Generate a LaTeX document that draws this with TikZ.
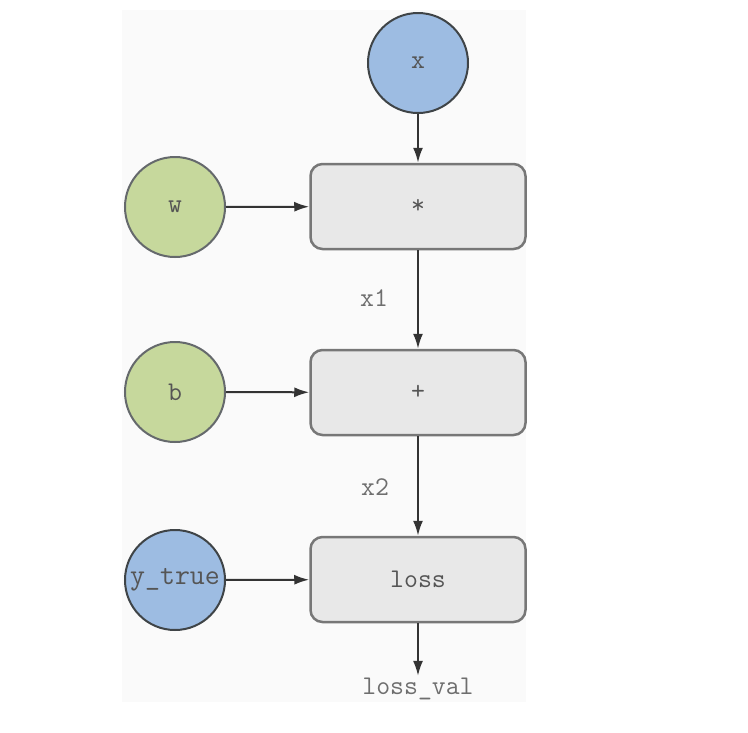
\documentclass[tikz,border=0pt]{standalone}
\usepackage{fontspec}
\usetikzlibrary{arrows.meta}
\definecolor{panel}{HTML}{FAFAFA}
\definecolor{bluefill}{HTML}{9DBCE2}
\definecolor{greenfill}{HTML}{C6D89C}
\definecolor{boxfill}{HTML}{E8E8E8}
\definecolor{boxline}{HTML}{777777}
\definecolor{circline}{HTML}{3F4447}
\definecolor{txt}{HTML}{555555}
\begin{document}
\begin{tikzpicture}[x=1pt,y=-1pt,
  every node/.style={font=\ttfamily\fontsize{27}{30}\selectfont, text=txt},
  bluecirc/.style={circle, draw=circline, line width=2pt, fill=bluefill, minimum size=100pt, inner sep=0pt},
  greencirc/.style={circle, draw=circline!80, line width=2pt, fill=greenfill, minimum size=100pt, inner sep=0pt},
  opbox/.style={rectangle, rounded corners=12pt, draw=boxline, line width=2.5pt, fill=boxfill, minimum width=215pt, minimum height=85pt},
  edge/.style={draw=black!80, line width=2pt, -{Latex[length=15pt,width=10pt]}},
  lbl/.style={text=txt!85}
]
\useasboundingbox (0,0) rectangle (748,732);
\fill[white] (0,0) rectangle (748,732);
\fill[panel] (122,10) rectangle (526,702);

\node[bluecirc] (x) at (418,63) {x};
\node[opbox] (mul) at (418,206.5) {*};
\node[greencirc] (w) at (175,207) {w};
\node[opbox] (add) at (418,392.5) {+};
\node[greencirc] (b) at (175,392) {b};
\node[opbox] (loss) at (418,579.5) {loss};
\node[bluecirc] (y) at (175,580) {\fontsize{29}{30}\selectfont y\_true};
\node[lbl] (x1) at (374,298) {x1};
\node[lbl] (x2) at (375,487) {x2};
\node[lbl, inner sep=2pt] (lv) at (418,689) {loss\_val};

\draw[edge] (x) -- (mul);
\draw[edge] (w) -- (mul);
\draw[edge] (mul) -- (add);
\draw[edge] (b) -- (add);
\draw[edge] (add) -- (loss);
\draw[edge] (y) -- (loss);
\draw[edge] (loss) -- (lv);
\end{tikzpicture}
\end{document}
